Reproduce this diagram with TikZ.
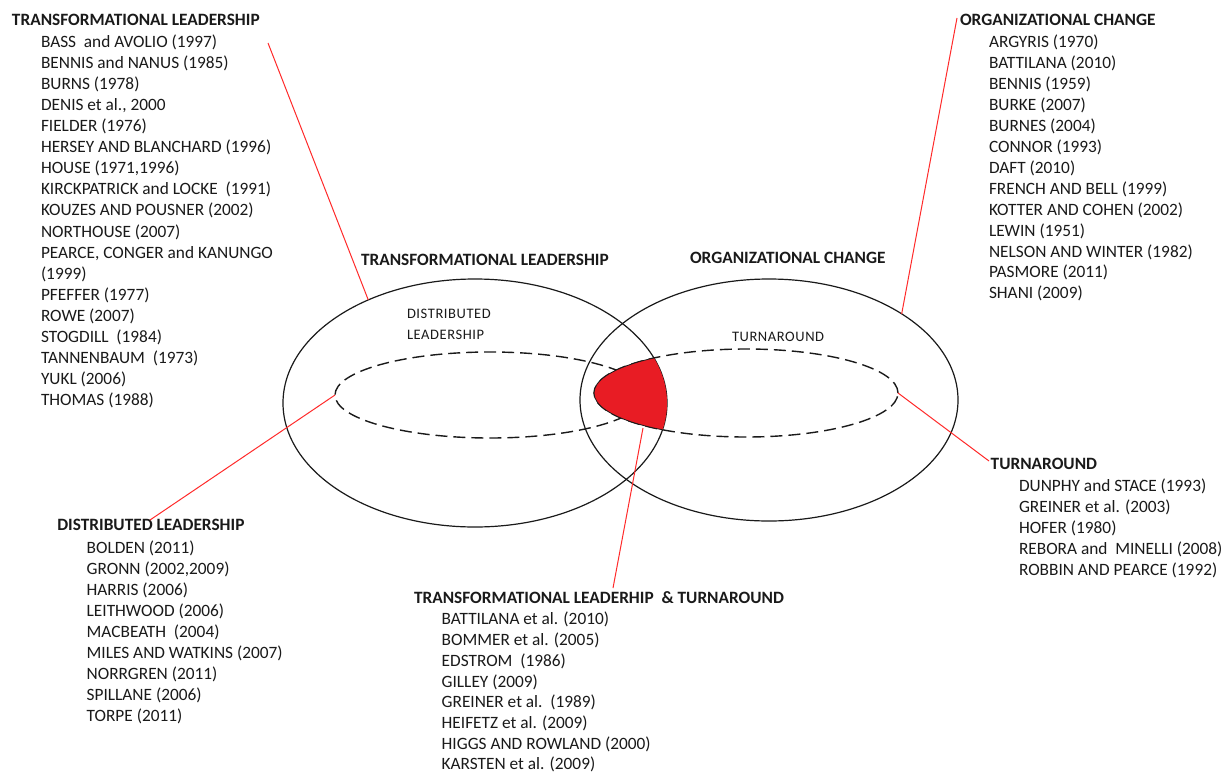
\documentclass[tikz,border=0pt]{standalone}
\usepackage{fontspec}
\setmainfont{Carlito}
\usetikzlibrary{shapes.geometric}
\definecolor{blobred}{HTML}{E81C24}
\definecolor{linkred}{HTML}{FF2A2A}
\definecolor{ink}{HTML}{1A1A1A}
\begin{document}
\begin{tikzpicture}[x=1pt,y=-1pt,
  item/.style={anchor=base west, inner sep=0pt, outer sep=0pt, text=ink, font=\fontsize{17.3}{21}\selectfont},
  head/.style={item, font=\fontsize{17.3}{21}\selectfont\bfseries},
  smalllabel/.style={item, font=\fontsize{14.5}{18}\selectfont\addfontfeatures{LetterSpace=4}},
  bigell/.style={ellipse, draw=ink, line width=1.2pt, inner sep=0pt, outer sep=0pt},
  dashell/.style={ellipse, draw=ink, line width=1.4pt, dash pattern=on 12pt off 6pt, inner sep=0pt, outer sep=0pt},
  link/.style={draw=linkred, line width=1pt}]
\useasboundingbox[fill=white] (0,0) rectangle (1230,776);

% ellipses
\node[bigell, minimum width=384pt, minimum height=248pt] (TL) at (475,403) {};
\node[bigell, minimum width=378pt, minimum height=242pt] (OC) at (769,400) {};
\node[dashell, minimum width=310pt, minimum height=86pt] (DL) at (490,395) {};
\node[dashell, minimum width=304pt, minimum height=88pt] (TA) at (746,393) {};

% red intersection
\begin{scope}
  \clip (475,403) ellipse [x radius=192pt, y radius=124pt];
  \fill[blobred] (746,393) ellipse [x radius=152pt, y radius=44pt];
  \draw[ink, line width=0.8pt] (746,393) ellipse [x radius=152pt, y radius=44pt];
\end{scope}
\coordinate (blob) at (643,428);

% labels inside diagram
\node[head] (lblTL) at (361,265.6) {TRANSFORMATIONAL LEADERSHIP};
\node[head] (lblOC) at (690,263.6) {ORGANIZATIONAL CHANGE};
\node[smalllabel] (lblDL1) at (407,318.7) {DISTRIBUTED};
\node[smalllabel] (lblDL2) at (407,339.7) {LEADERSHIP};
\node[smalllabel] (lblTA) at (732,341.7) {TURNAROUND};

% top-left list
\node[head] (hTL) at (12,25.6) {TRANSFORMATIONAL LEADERSHIP};
\foreach \t [count=\i] in {{BASS\ \ and AVOLIO (1997)},{BENNIS and NANUS (1985)},{BURNS (1978)},{DENIS et al., 2000},{FIELDER (1976)},{HERSEY AND BLANCHARD (1996)},{HOUSE (1971,1996)},{KIRCKPATRICK and LOCKE\ \ (1991)},{KOUZES AND POUSNER (2002)},{NORTHOUSE (2007)},{PEARCE, CONGER and KANUNGO},{(1999)},{PFEFFER (1977)},{ROWE (2007)},{STOGDILL\ \ (1984)},{TANNENBAUM\ \ (1973)},{YUKL (2006)},{THOMAS (1988)}}
  \node[item] (tl\i) at (41,{47.3+(\i-1)*21.08}) {\t};

% top-right list
\node[head] (hOC) at (960,25.6) {ORGANIZATIONAL CHANGE};
\foreach \t [count=\i] in {{ARGYRIS (1970)},{BATTILANA (2010)},{BENNIS (1959)},{BURKE (2007)},{BURNES (2004)},{CONNOR (1993)},{DAFT (2010)},{FRENCH AND BELL (1999)},{KOTTER AND COHEN (2002)},{LEWIN (1951)},{NELSON AND WINTER (1982)},{PASMORE (2011)},{SHANI (2009)}}
  \node[item] (oc\i) at (989,{47.3+(\i-1)*20.97}) {\t};

% turnaround list
\node[head] (hTA) at (990.7,469.6) {TURNAROUND};
\foreach \t [count=\i] in {{DUNPHY and STACE (1993)},{GREINER et al. (2003)},{HOFER (1980)},{REBORA and\ \ MINELLI (2008)},{ROBBIN AND PEARCE (1992)}}
  \node[item] (ta\i) at (1019,{491.3+(\i-1)*21}) {\t};

% distributed leadership list
\node[head] (hDL) at (57.3,530.6) {DISTRIBUTED LEADERSHIP};
\foreach \t [count=\i] in {{BOLDEN (2011)},{GRONN (2002,2009)},{HARRIS (2006)},{LEITHWOOD (2006)},{MACBEATH\ \ (2004)},{MILES AND WATKINS (2007)},{NORRGREN (2011)},{SPILLANE (2006)},{TORPE (2011)}}
  \node[item] (dl\i) at (86.7,{553.9+(\i-1)*20.96}) {\t};

% transformational leadership & turnaround list
\node[head] (hTLT) at (414,603.9) {TRANSFORMATIONAL LEADERHIP\ \ \& TURNAROUND};
\foreach \t [count=\i] in {{BATTILANA et al. (2010)},{BOMMER et al. (2005)},{EDSTROM\ \ (1986)},{GILLEY (2009)},{GREINER et al.\ \ (1989)},{HEIFETZ et al. (2009)},{HIGGS AND ROWLAND (2000)},{KARSTEN et al. (2009)}}
  \node[item] (tlt\i) at (441.7,{624.9+(\i-1)*20.7}) {\t};

% connector free ends
\coordinate (eTL) at (268,43);
\coordinate (eOC) at (957,18);
\coordinate (eDL) at (150,520);
\coordinate (eTA) at (989,461);
\coordinate (eTLT) at (613,588);

% connectors
\draw[link] (TL.136) -- (eTL);
\draw[link] (OC.33.6) -- (eOC);
\draw[link] (DL.west) -- (eDL);
\draw[link] (TA.east) -- (eTA);
\draw[link] (blob) -- (eTLT);
\end{tikzpicture}
\end{document}
